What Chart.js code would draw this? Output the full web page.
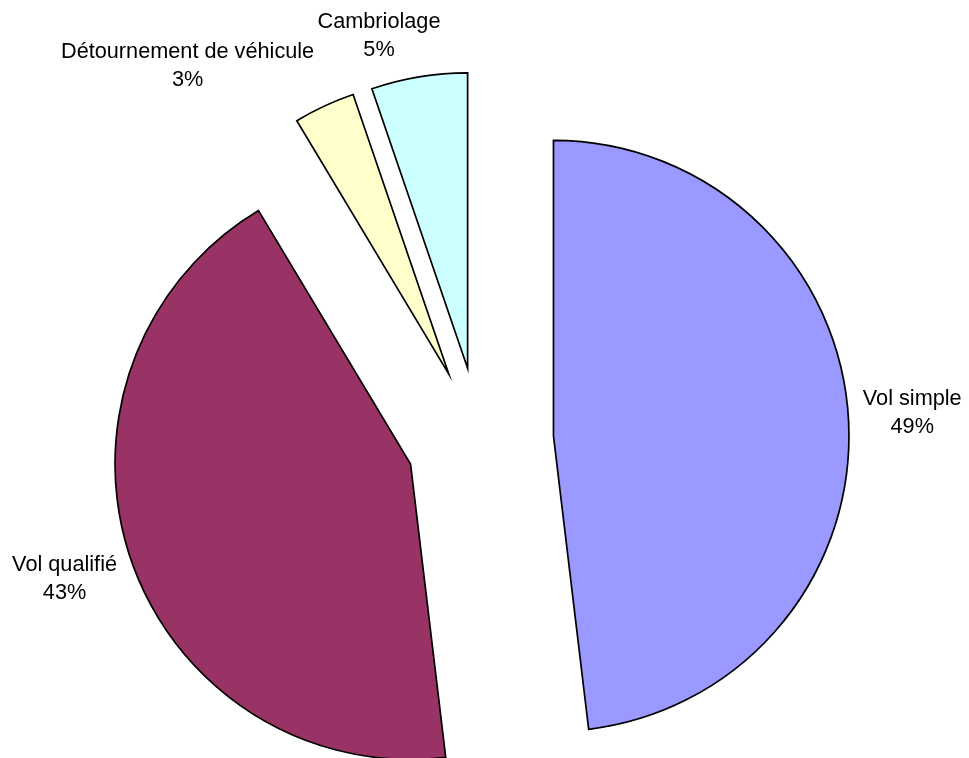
<!DOCTYPE html>
<html><head><meta charset="utf-8">
<script src="https://cdn.jsdelivr.net/npm/chart.js@4.4.0/dist/chart.umd.min.js"></script>
<style>html,body{margin:0;padding:0;background:#fff}#wrap{width:969px;height:758px;position:relative}</style>
</head><body><div id="wrap"><canvas id="c"></canvas></div>
<script>
// ---- data ----
const categories = ['Vol simple', 'Vol qualifié', 'Détournement de véhicule', 'Cambriolage'];
const shares = [48.1, 43.3, 3.35, 5.25];
const pctLabels = ['49%', '43%', '3%', '5%'];

// ---- styles ----
const colors = ['#9999FF', '#993366', '#FFFFCC', '#CCFFFF'];
const explode = [74, 73, 73, 73];
const labelShift = [[63.8, -13.3], [-66.4, 11.1], [-136.7, -47.8], [-40.1, -48.5]];
const lineGap = 27.8;
const labelFont = '21.7px "Liberation Sans", Arial, sans-serif';
const edgeWidth = 1.7;

const explodePlugin = {
  id: 'explode',
  afterDatasetUpdate(chart, args) {
    args.meta.data.forEach((el, i) => {
      const mid = (el.startAngle + el.endAngle) / 2;
      el.x += Math.cos(mid) * explode[i];
      el.y += Math.sin(mid) * explode[i];
    });
  },
  afterDatasetsDraw(chart) {
    const ctx = chart.ctx;
    const meta = chart.getDatasetMeta(0);
    ctx.save();
    // slice outlines (sharp miter apex, like the reference)
    ctx.strokeStyle = '#000';
    ctx.lineWidth = edgeWidth;
    ctx.lineJoin = 'miter';
    ctx.miterLimit = 12;
    meta.data.forEach((el) => {
      ctx.beginPath();
      ctx.moveTo(el.x, el.y);
      ctx.arc(el.x, el.y, el.outerRadius, el.startAngle, el.endAngle);
      ctx.closePath();
      ctx.stroke();
    });
    // labels
    ctx.font = labelFont;
    ctx.fillStyle = '#000';
    ctx.textAlign = 'center';
    ctx.textBaseline = 'alphabetic';
    meta.data.forEach((el, i) => {
      const mid = (el.startAngle + el.endAngle) / 2;
      const ax = el.x + Math.cos(mid) * el.outerRadius + labelShift[i][0];
      const ay = el.y + Math.sin(mid) * el.outerRadius + labelShift[i][1];
      ctx.fillText(categories[i], ax, ay);
      ctx.fillText(pctLabels[i], ax, ay + lineGap);
    });
    ctx.restore();
  }
};

new Chart(document.getElementById('c'), {
  type: 'pie',
  data: {
    labels: categories,
    datasets: [{
      data: shares,
      backgroundColor: colors,
      borderWidth: 0,
      offset: 0,
      hoverOffset: 0,
      radius: 295.5,
      clip: false
    }]
  },
  options: {
    responsive: true,
    maintainAspectRatio: false,
    animation: false,
    events: [],
    layout: { padding: { left: 0, right: 9.8, top: 122.6, bottom: 0 } },
    plugins: { legend: { display: false }, tooltip: { enabled: false } }
  },
  plugins: [explodePlugin]
});
</script>
</body></html>
